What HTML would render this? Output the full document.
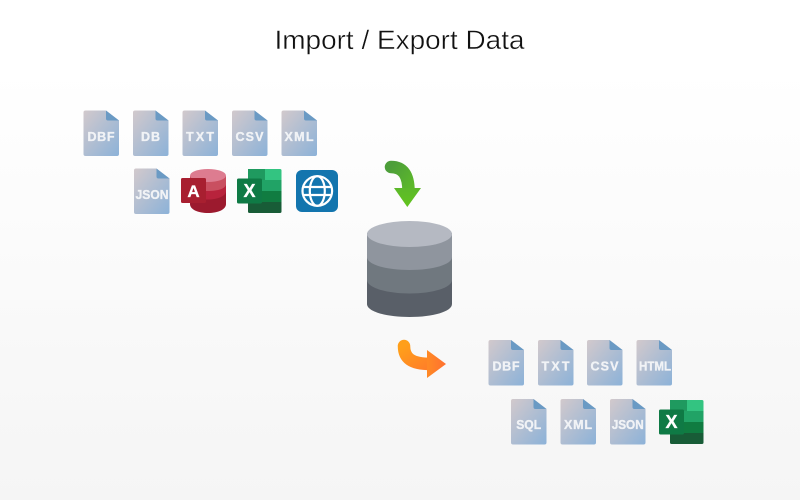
<!DOCTYPE html>
<html>
<head>
<meta charset="utf-8">
<style>
html,body{margin:0;padding:0;width:800px;height:500px;overflow:hidden;background:#fff}
svg{display:block}
text{font-family:"Liberation Sans",sans-serif}
.f{font-weight:700;font-size:12.5px;fill:#f1f3f6;stroke:#f1f3f6;stroke-width:.35;text-anchor:middle}
</style>
</head>
<body>
<svg width="800" height="500" viewBox="0 0 800 500" xmlns="http://www.w3.org/2000/svg">
<defs>
<linearGradient id="bg" x1="0" y1="0" x2="0" y2="1"><stop offset="0" stop-color="#fff"/><stop offset=".14" stop-color="#fff"/><stop offset="1" stop-color="#f5f5f5"/></linearGradient>
<linearGradient id="doc" x1="0" y1="0" x2="1" y2="1"><stop offset="0" stop-color="#d2c9cc"/><stop offset="1" stop-color="#8cb2d8"/></linearGradient>
<linearGradient id="gr" x1="0" y1="0" x2="1" y2="1"><stop offset="0" stop-color="#4d9e3a"/><stop offset="1" stop-color="#5cb82a"/></linearGradient>
<linearGradient id="or" x1="0" y1="0" x2="1" y2="1"><stop offset="0" stop-color="#ff9f1a"/><stop offset="1" stop-color="#ff8028"/></linearGradient>
<linearGradient id="grh" x1="0" y1="0" x2="0" y2="1"><stop offset="0" stop-color="#5cb82a"/><stop offset="1" stop-color="#62c41e"/></linearGradient>
<linearGradient id="orh" x1="0" y1="0" x2="1" y2="0"><stop offset="0" stop-color="#ff8a25"/><stop offset="1" stop-color="#ff7030"/></linearGradient>
<g id="file">
<path d="M2 0H22.500L35.500 10V43.500a2 2 0 0 1-2 2H2a2 2 0 0 1-2-2V2a2 2 0 0 1 2-2Z" fill="url(#doc)"/>
<path d="M22.500 0L35.500 10H24.500a2 2 0 0 1-2-2Z" fill="#6a9ac4"/>
</g>
<g id="excel">
<rect x="11" y="0" width="17" height="11" fill="#1f9a5f"/>
<path d="M28 0h15a1.500 1.500 0 0 1 1.500 1.500V11H28Z" fill="#33c481"/>
<rect x="11" y="11" width="33.500" height="11" fill="#21a366"/>
<rect x="11" y="22" width="33.500" height="11" fill="#107c41"/>
<path d="M11 33H44.500V42.500a1.500 1.500 0 0 1-1.500 1.500H12.500a1.500 1.500 0 0 1-1.500-1.500Z" fill="#185c37"/>
<rect x="0" y="9.500" width="25" height="25" rx="1.500" fill="#0f7a45"/>
<text x="12.500" y="28.200" font-size="18" font-weight="700" fill="#fff" stroke="#fff" stroke-width=".3" text-anchor="middle">X</text>
</g>
</defs>
<rect width="800" height="500" fill="url(#bg)"/>
<text x="399.500" y="49" font-size="26.500" fill="#111" stroke="#fff" stroke-width=".4" textLength="250" lengthAdjust="spacingAndGlyphs" text-anchor="middle">Import / Export Data</text>

<use href="#file" x="83.500" y="110.500"/><text class="f" x="101" y="141" textLength="27" lengthAdjust="spacing">DBF</text>
<use href="#file" x="133" y="110.500"/><text class="f" x="150.500" y="141" textLength="19" lengthAdjust="spacing">DB</text>
<use href="#file" x="182.500" y="110.500"/><text class="f" x="200" y="141" textLength="28" lengthAdjust="spacing">TXT</text>
<use href="#file" x="232" y="110.500"/><text class="f" x="249.500" y="141" textLength="28" lengthAdjust="spacing">CSV</text>
<use href="#file" x="281.500" y="110.500"/><text class="f" x="299" y="141" textLength="29" lengthAdjust="spacing">XML</text>
<use href="#file" x="134" y="168.500"/><text class="f" x="152" y="199" textLength="33" lengthAdjust="spacingAndGlyphs">JSON</text>

<!-- Access -->
<path d="M190 176V204C190 209.500 198 213 208 213S226 209.500 226 204V176Z" fill="#9c1a2e"/>
<path d="M190 191C190 196 198 199.500 208 199.500S226 196 226 191V176H190Z" fill="#b8233c"/>
<path d="M190 176V184C190 188.500 198 191 208 191S226 188.500 226 184V176Z" fill="#c94f60"/>
<ellipse cx="208" cy="175.500" rx="18" ry="6.500" fill="#dd7c90"/>
<rect x="181" y="178" width="25" height="25" rx="1.500" fill="#a81f30"/>
<text x="193.500" y="196.800" font-size="17" font-weight="700" fill="#fff" stroke="#fff" stroke-width=".3" text-anchor="middle">A</text>

<use href="#excel" x="237" y="169"/>

<!-- Globe -->
<rect x="296" y="170" width="42" height="42" rx="6" fill="#1375ae"/>
<g fill="none" stroke="#fff" stroke-width="2.200">
<circle cx="317.300" cy="191" r="14.800"/>
<ellipse cx="317.300" cy="191" rx="7.500" ry="14.800"/>
<path d="M303 187H331.500M303 195H331.500"/>
</g>

<!-- Green arrow -->
<path d="M391 167C403 167 408.500 175 408.500 191" fill="none" stroke="url(#gr)" stroke-width="12.500" stroke-linecap="round"/>
<path d="M394 188H421L407.300 207Z" fill="url(#grh)"/>

<!-- Database -->
<path d="M367 233V304C367 311.500 386 317 409.500 317S452 311.500 452 304V233Z" fill="#595f68"/>
<path d="M367 233V280C367 287.500 386 293.500 409.500 293.500S452 287.500 452 280V233Z" fill="#70787f"/>
<path d="M367 233V257C367 264.500 386 270 409.500 270S452 264.500 452 257V233Z" fill="#8f959e"/>
<ellipse cx="409.500" cy="234" rx="42.500" ry="13" fill="#b5b9c2"/>

<!-- Orange arrow -->
<path d="M404 346C404 358 411 364 431 364" fill="none" stroke="url(#or)" stroke-width="12.500" stroke-linecap="round"/>
<path d="M427 350L446 364L427 378Z" fill="url(#orh)"/>

<use href="#file" x="488.500" y="340"/><text class="f" x="506" y="370.500" textLength="27" lengthAdjust="spacing">DBF</text>
<use href="#file" x="538" y="340"/><text class="f" x="555.500" y="370.500" textLength="28" lengthAdjust="spacing">TXT</text>
<use href="#file" x="587" y="340"/><text class="f" x="604.500" y="370.500" textLength="28" lengthAdjust="spacing">CSV</text>
<use href="#file" x="636.500" y="340"/><text class="f" x="655" y="370.500" textLength="32" lengthAdjust="spacingAndGlyphs">HTML</text>
<use href="#file" x="511" y="399"/><text class="f" x="528.700" y="429" textLength="25" lengthAdjust="spacingAndGlyphs">SQL</text>
<use href="#file" x="560.500" y="399"/><text class="f" x="578" y="429" textLength="28" lengthAdjust="spacing">XML</text>
<use href="#file" x="610" y="399"/><text class="f" x="627.700" y="429" textLength="32" lengthAdjust="spacingAndGlyphs">JSON</text>
<use href="#excel" x="659" y="400"/>
</svg>
</body>
</html>
